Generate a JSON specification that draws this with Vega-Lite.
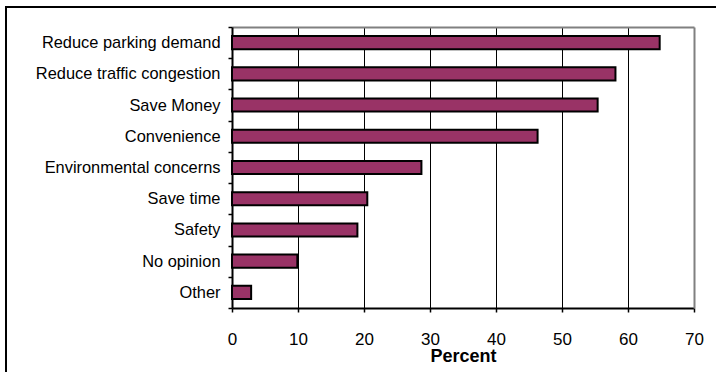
{
  "$schema": "https://vega.github.io/schema/vega-lite/v6.json",
  "autosize": {"type": "none"},
  "width": 710,
  "height": 365,
  "padding": {"left": 6, "top": 7, "right": 0, "bottom": 0},
  "background": "white",
  "view": {"stroke": "black", "strokeWidth": 2, "strokeDash": [711, 1074, 368, 1]},
  "config": {
    "font": "Liberation Sans"
  },
  "data": {
    "values": [
      {"reason": "Reduce parking demand", "percent": 64.8},
      {"reason": "Reduce traffic congestion", "percent": 58.1},
      {"reason": "Save Money", "percent": 55.4},
      {"reason": "Convenience", "percent": 46.3},
      {"reason": "Environmental concerns", "percent": 28.7},
      {"reason": "Save time", "percent": 20.5},
      {"reason": "Safety", "percent": 19.0},
      {"reason": "No opinion", "percent": 9.9},
      {"reason": "Other", "percent": 2.9}
    ]
  },
  "layer": [
    {
      "mark": {"type": "bar", "fill": "#993366", "stroke": "black", "strokeWidth": 2, "height": {"band": 0.42}},
      "encoding": {
        "y": {
          "field": "reason", "type": "nominal", "sort": null,
          "scale": {"range": [20, 301], "paddingInner": 0, "paddingOuter": 0},
          "axis": {
            "orient": "left", "offset": -226, "title": null, "grid": false,
            "domainColor": "black", "domainWidth": 2,
            "tickColor": "black", "tickWidth": 1.5, "tickSize": 4, "tickBand": "extent",
            "labelFontSize": 16.4, "labelColor": "black", "labelPadding": 8, "labelLimit": 300
          }
        },
        "x": {
          "field": "percent", "type": "quantitative",
          "scale": {"domain": [0, 70], "range": [226, 688], "nice": false, "zero": true},
          "axis": {
            "orient": "bottom", "offset": -64, "grid": false,
            "values": [0, 10, 20, 30, 40, 50, 60, 70],
            "domainColor": "black", "domainWidth": 2,
            "tickColor": "black", "tickWidth": 1.5, "tickSize": 4,
            "labelFontSize": 17, "labelColor": "black", "labelPadding": 19, "labelFlush": false,
            "title": "Percent", "titleFontSize": 18, "titleFontWeight": "bold", "titleColor": "black", "titlePadding": 0.5
          }
        }
      }
    },
    {
      "mark": {"type": "bar", "opacity": 0, "height": {"band": 0.42}},
      "encoding": {
        "y": {
          "field": "reason", "type": "nominal", "sort": null,
          "axis": {
            "orient": "right", "offset": -22, "title": null, "grid": false,
            "domainColor": "#808080", "domainWidth": 2, "ticks": false, "labels": false
          }
        },
        "x": {
          "field": "percent", "type": "quantitative",
          "axis": {
            "orient": "top", "offset": -20, "title": null,
            "values": [10, 20, 30, 40, 50, 60],
            "domainColor": "#808080", "domainWidth": 2, "ticks": false, "labels": false,
            "grid": true, "gridColor": "black", "gridWidth": 1, "gridOpacity": 1
          }
        }
      }
    }
  ],
  "resolve": {"axis": {"x": "independent", "y": "independent"}}
}
